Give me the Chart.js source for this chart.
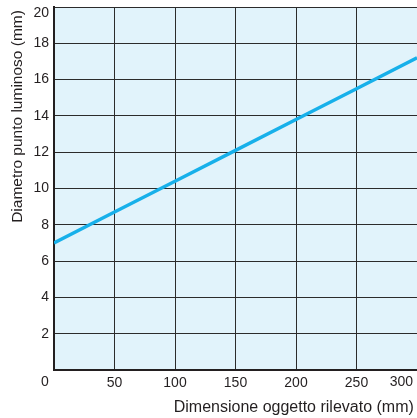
<!DOCTYPE html>
<html>
<head>
<meta charset="utf-8">
<script src="https://cdn.jsdelivr.net/npm/chart.js@4.4.1/dist/chart.umd.min.js"></script>
<style>
html,body{margin:0;padding:0;background:#fff;overflow:hidden;}
#wrap{width:417px;height:418px;position:relative;}
</style>
</head>
<body>
<div id="wrap"><canvas id="c" width="417" height="418"></canvas></div>
<script>
// Data
const objectSize = [0, 50, 100, 150, 200, 250, 300];           // mm
const spotDiameter = [7.0, 8.7, 10.4, 12.1, 13.8, 15.5, 17.2]; // mm
const xTicks = [0, 50, 100, 150, 200, 250, 300];
const yTicks = [2, 4, 6, 8, 10, 12, 14, 16, 18, 20];
const xTitle = 'Dimensione oggetto rilevato (mm)';
const yTitle = 'Diametro punto luminoso (mm)';

const FONT = '"Liberation Sans", Arial, Helvetica, sans-serif';
const TEXT = '#231f20';

const bgPlugin = {
  id: 'plotBg',
  beforeDraw(chart) {
    const {ctx, chartArea: a} = chart;
    ctx.save();
    ctx.fillStyle = '#e1f3fb';
    ctx.fillRect(a.left, a.top, a.right - a.left, a.bottom - a.top);
    ctx.restore();
  }
};

// Edge tick labels (x: 0 and 300, y: 20) are nudged inward, as in the reference
const edgeLabels = {
  id: 'edgeLabels',
  afterDraw(chart) {
    const {ctx} = chart;
    const xs = chart.scales.x, ys = chart.scales.y;
    ctx.save();
    ctx.font = '14px ' + FONT;
    ctx.fillStyle = TEXT;
    ctx.textBaseline = 'middle';
    ctx.textAlign = 'center';
    const y = xs.top + 12;
    const first = xTicks[0], last = xTicks[xTicks.length - 1];
    ctx.fillText(String(first), xs.getPixelForValue(first) - 9, y);
    const w = ctx.measureText(String(last)).width;
    const px = Math.min(xs.getPixelForValue(last), chart.width - w / 2 - 4);
    ctx.fillText(String(last), px, y);
    const yTop = yTicks[yTicks.length - 1];
    ctx.textAlign = 'right';
    ctx.fillText(String(yTop), ys.right - 5, ys.getPixelForValue(yTop) + 6);
    ctx.restore();
  }
};

new Chart(document.getElementById('c'), {
  type: 'line',
  data: {
    datasets: [{
      data: objectSize.map((x, i) => ({x, y: spotDiameter[i]})),
      borderColor: '#17b0ea',
      borderWidth: 3.4,
      pointRadius: 0,
      tension: 0,
      fill: false
    }]
  },
  options: {
    responsive: false,
    animation: false,
    layout: {padding: {top: 7, right: 0, left: 0, bottom: 0}},
    plugins: {legend: {display: false}, tooltip: {enabled: false}},
    scales: {
      x: {
        type: 'linear',
        min: 0, max: 300,
        afterBuildTicks(s) { s.ticks = xTicks.map(v => ({value: v})); },
        afterFit(s) { s.height = 48; s.paddingLeft = 0; s.paddingRight = 0; },
        grid: {color: '#2b2b2b', lineWidth: 1, drawTicks: false},
        border: {display: true, color: '#231f20', width: 2},
        ticks: {
          padding: 5,
          color: TEXT,
          font: {family: FONT, size: 14},
          maxRotation: 0,
          callback: (v) => (v === xTicks[0] || v === xTicks[xTicks.length - 1]) ? '' : String(v)
        },
        title: {
          display: true,
          text: xTitle + '\u2009',
          align: 'end',
          color: TEXT,
          font: {family: FONT, size: 16},
          padding: {top: 0, bottom: 1}
        }
      },
      y: {
        type: 'linear',
        min: 0, max: 20,
        afterBuildTicks(s) { s.ticks = [0].concat(yTicks).map(v => ({value: v})); },
        afterFit(s) { s.width = 54; s.paddingTop = 0; s.paddingBottom = 0; },
        grid: {color: '#2b2b2b', lineWidth: 1, drawTicks: false},
        border: {display: true, color: '#231f20', width: 2},
        ticks: {
          padding: 5,
          color: TEXT,
          font: {family: FONT, size: 14},
          callback: (v) => (v === 0 || v === yTicks[yTicks.length - 1]) ? '' : String(v)
        },
        title: {
          display: true,
          text: yTitle + '\u2009',
          align: 'end',
          color: TEXT,
          font: {family: FONT, size: 15.5},
          padding: {top: 8, bottom: 0}
        }
      }
    }
  },
  plugins: [bgPlugin, edgeLabels]
});
</script>
</body>
</html>
